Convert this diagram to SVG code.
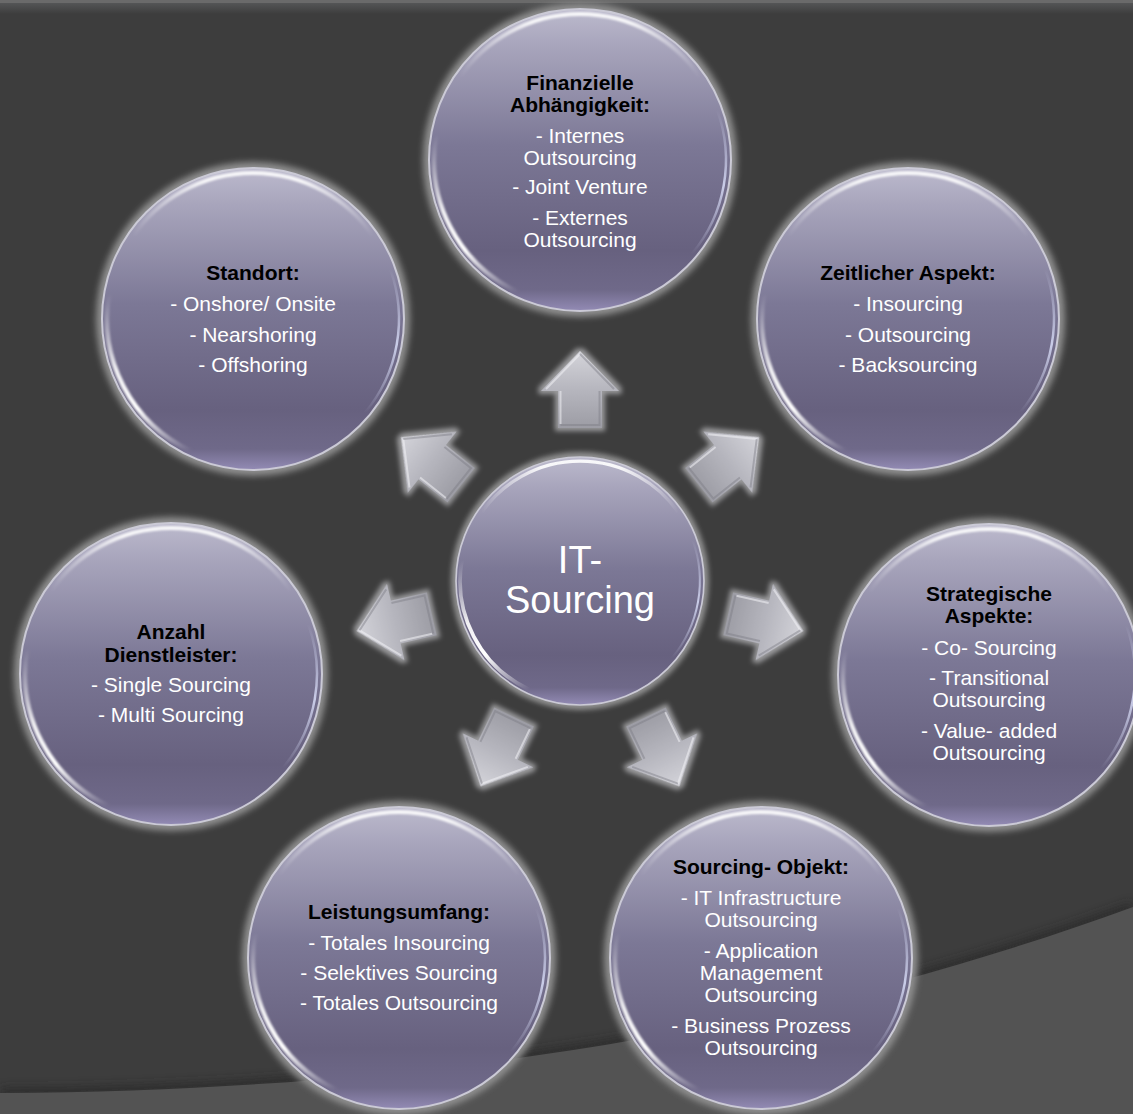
<svg xmlns="http://www.w3.org/2000/svg" xmlns:xlink="http://www.w3.org/1999/xlink" width="1133" height="1114" viewBox="0 0 1133 1114">
<defs>
<style>
.h{font-family:"Liberation Sans",Arial,sans-serif;font-weight:bold;font-size:21px;fill:#000;text-anchor:middle}
.b{font-family:"Liberation Sans",Arial,sans-serif;font-size:21px;fill:#fff;text-anchor:middle}
.c{font-family:"Liberation Sans",Arial,sans-serif;font-size:38px;fill:#fff;text-anchor:middle}
</style>
<filter id="soft" x="-20%" y="-20%" width="140%" height="140%"><feGaussianBlur stdDeviation="3"/></filter>
<filter id="tiny" x="-20%" y="-20%" width="140%" height="140%"><feGaussianBlur stdDeviation="0.8"/></filter>
<filter id="shadow" x="-10%" y="-50%" width="120%" height="200%"><feGaussianBlur stdDeviation="5"/></filter>
<filter id="arrowGlow" x="-40%" y="-40%" width="180%" height="180%">
<feMorphology in="SourceAlpha" operator="dilate" radius="3" result="d"/>
<feGaussianBlur in="d" stdDeviation="2.5" result="bl"/>
<feFlood flood-color="#9a9a9c"/>
<feComposite in2="bl" operator="in" result="g"/>
<feMerge><feMergeNode in="g"/><feMergeNode in="SourceGraphic"/></feMerge>
</filter>
<linearGradient id="ballFill" x1="0" y1="0" x2="0" y2="1">
<stop offset="0" stop-color="#bcbacd"/>
<stop offset="0.12" stop-color="#a8a5bc"/>
<stop offset="0.45" stop-color="#7c7896"/>
<stop offset="0.8" stop-color="#67617f"/>
<stop offset="0.93" stop-color="#6f6989"/>
<stop offset="1" stop-color="#938bb5"/>
</linearGradient>
<linearGradient id="hlTop" gradientUnits="userSpaceOnUse" x1="-120" y1="0" x2="120" y2="0">
<stop offset="0" stop-color="#fff" stop-opacity="0"/>
<stop offset="0.3" stop-color="#fff" stop-opacity="0.9"/>
<stop offset="0.7" stop-color="#fff" stop-opacity="0.9"/>
<stop offset="1" stop-color="#fff" stop-opacity="0"/>
</linearGradient>
<linearGradient id="hlLow" gradientUnits="userSpaceOnUse" x1="-62" y1="132" x2="-144" y2="-25">
<stop offset="0" stop-color="#fff" stop-opacity="0"/>
<stop offset="0.35" stop-color="#fff" stop-opacity="1"/>
<stop offset="0.6" stop-color="#fff" stop-opacity="0.9"/>
<stop offset="1" stop-color="#fff" stop-opacity="0"/>
</linearGradient>
<linearGradient id="hlRight" gradientUnits="userSpaceOnUse" x1="137" y1="-50" x2="112" y2="94">
<stop offset="0" stop-color="#dfe4ff" stop-opacity="0"/>
<stop offset="0.5" stop-color="#dfe4ff" stop-opacity="0.8"/>
<stop offset="1" stop-color="#dfe4ff" stop-opacity="0"/>
</linearGradient>
<linearGradient id="arrowFill" gradientUnits="userSpaceOnUse" x1="0" y1="-229" x2="0" y2="-152">
<stop offset="0" stop-color="#d4d4da"/>
<stop offset="0.5" stop-color="#b6b6be"/>
<stop offset="1" stop-color="#9c9ca4"/>
</linearGradient>
<linearGradient id="topStrip" x1="0" y1="0" x2="0" y2="1">
<stop offset="0" stop-color="#6e7072"/>
<stop offset="1" stop-color="#3d3d3d"/>
</linearGradient>
<g id="bubble">
<circle r="157" fill="#8e8e8e" filter="url(#soft)"/>
<circle r="151" fill="url(#ballFill)" stroke="#cbcad6" stroke-width="2"/>
<path d="M-119.6,-83.7 A146,146 0 0 1 119.6,-83.7" fill="none" stroke="url(#hlTop)" stroke-width="4" filter="url(#tiny)"/>
<path d="M-61.7,132.3 A146,146 0 0 1 -143.8,-25.4" fill="none" stroke="url(#hlLow)" stroke-width="4.5" filter="url(#tiny)"/>
<path d="M137.2,-49.9 A146,146 0 0 1 111.8,93.8" fill="none" stroke="url(#hlRight)" stroke-width="2.5"/>
</g>
<g id="arrow">
<path d="M0,-229 L39,-189 L22,-189 L22,-152 L-22,-152 L-22,-189 L-39,-189 Z" fill="url(#arrowFill)" filter="url(#arrowGlow)"/>
<path d="M-34,-191 L0,-226 M-19.5,-156 L-19.5,-189" fill="none" stroke="#f2f2f6" stroke-opacity="0.55" stroke-width="2"/>
<path d="M0,-226 L34,-191 M19.5,-189 L19.5,-155 L-19.5,-155" fill="none" stroke="#7c7c84" stroke-opacity="0.45" stroke-width="2"/>
</g>
</defs>

<g id="background">
<rect x="0" y="0" width="1133" height="1114" fill="#3d3d3d"/>
<rect x="0" y="0" width="1133" height="14" fill="url(#topStrip)" opacity="0.6"/>
<rect x="0" y="0" width="1133" height="3" fill="#6a6a6a"/>
<path d="M0,1093 C500,1090 850,1010 1133,907" fill="none" stroke="#262626" stroke-width="10" opacity="0.7" filter="url(#shadow)"/>
<path d="M0,1093 C500,1090 850,1010 1133,907 L1133,1114 L0,1114 Z" fill="#535353"/>
</g>

<g id="connectors">
<use xlink:href="#arrow" transform="translate(580,580) rotate(0)"/>
<use xlink:href="#arrow" transform="translate(580,580) rotate(51.43)"/>
<use xlink:href="#arrow" transform="translate(580,580) rotate(102.86)"/>
<use xlink:href="#arrow" transform="translate(580,580) rotate(154.29)"/>
<use xlink:href="#arrow" transform="translate(580,580) rotate(205.71)"/>
<use xlink:href="#arrow" transform="translate(580,580) rotate(257.14)"/>
<use xlink:href="#arrow" transform="translate(580,580) rotate(308.57)"/>
</g>

<g id="node-center">
<use xlink:href="#bubble" transform="translate(580,581) scale(0.821)"/>
<text class="c" x="580" y="573">IT-</text>
<text class="c" x="580" y="613">Sourcing</text>
</g>

<g id="node-finanzielle">
<use xlink:href="#bubble" transform="translate(580,160)"/>
<text class="h" x="580" y="90">Finanzielle</text>
<text class="h" x="580" y="112">Abhängigkeit:</text>
<text class="b" x="580" y="143">- Internes</text>
<text class="b" x="580" y="165">Outsourcing</text>
<text class="b" x="580" y="194">- Joint Venture</text>
<text class="b" x="580" y="225">- Externes</text>
<text class="b" x="580" y="247">Outsourcing</text>
</g>

<g id="node-zeitlicher">
<use xlink:href="#bubble" transform="translate(908,319)"/>
<text class="h" x="908" y="280">Zeitlicher Aspekt:</text>
<text class="b" x="908" y="311">- Insourcing</text>
<text class="b" x="908" y="342">- Outsourcing</text>
<text class="b" x="908" y="372">- Backsourcing</text>
</g>

<g id="node-strategische">
<use xlink:href="#bubble" transform="translate(989,675)"/>
<text class="h" x="989" y="601">Strategische</text>
<text class="h" x="989" y="623">Aspekte:</text>
<text class="b" x="989" y="655">- Co- Sourcing</text>
<text class="b" x="989" y="685">- Transitional</text>
<text class="b" x="989" y="707">Outsourcing</text>
<text class="b" x="989" y="738">- Value- added</text>
<text class="b" x="989" y="760">Outsourcing</text>
</g>

<g id="node-sourcing-objekt">
<use xlink:href="#bubble" transform="translate(761,958)"/>
<text class="h" x="761" y="874">Sourcing- Objekt:</text>
<text class="b" x="761" y="905">- IT Infrastructure</text>
<text class="b" x="761" y="927">Outsourcing</text>
<text class="b" x="761" y="958">- Application</text>
<text class="b" x="761" y="980">Management</text>
<text class="b" x="761" y="1002">Outsourcing</text>
<text class="b" x="761" y="1033">- Business Prozess</text>
<text class="b" x="761" y="1055">Outsourcing</text>
</g>

<g id="node-leistungsumfang">
<use xlink:href="#bubble" transform="translate(399,958)"/>
<text class="h" x="399" y="919">Leistungsumfang:</text>
<text class="b" x="399" y="950">- Totales Insourcing</text>
<text class="b" x="399" y="980">- Selektives Sourcing</text>
<text class="b" x="399" y="1010">- Totales Outsourcing</text>
</g>

<g id="node-anzahl">
<use xlink:href="#bubble" transform="translate(171,674)"/>
<text class="h" x="171" y="639">Anzahl</text>
<text class="h" x="171" y="662">Dienstleister:</text>
<text class="b" x="171" y="692">- Single Sourcing</text>
<text class="b" x="171" y="722">- Multi Sourcing</text>
</g>

<g id="node-standort">
<use xlink:href="#bubble" transform="translate(253,319)"/>
<text class="h" x="253" y="280">Standort:</text>
<text class="b" x="253" y="311">- Onshore/ Onsite</text>
<text class="b" x="253" y="342">- Nearshoring</text>
<text class="b" x="253" y="372">- Offshoring</text>
</g>
</svg>
